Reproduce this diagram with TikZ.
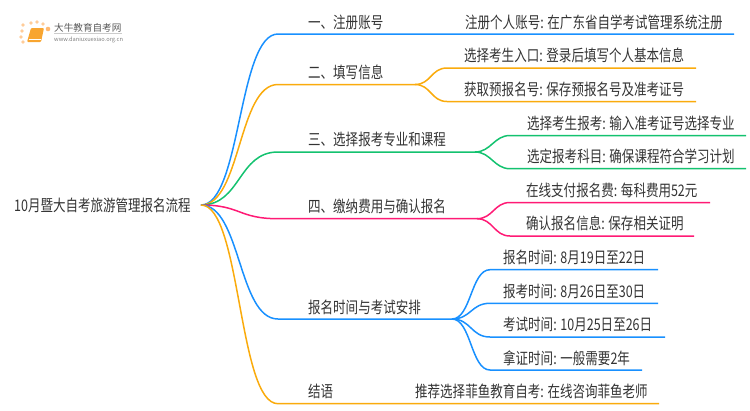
\documentclass[tikz,border=0pt]{standalone}
\usepackage{fontspec}
\usepackage{xcolor}
\setmainfont{Noto Sans CJK SC}[FakeStretch=0.782]
\newfontfamily\logofont{Noto Sans CJK SC}
\usetikzlibrary{positioning}
\definecolor{lineblue}{HTML}{1890FF}
\definecolor{lineorange}{HTML}{FAAB0C}
\definecolor{linegreen}{HTML}{13C26F}
\definecolor{linepink}{HTML}{FF1A75}
\definecolor{textgray}{HTML}{333333}
\definecolor{bookorange}{HTML}{F8A530}
\tikzset{
    label/.style={anchor=base west, inner sep=0pt, text=textgray, font=\fontsize{16}{17}\selectfont},
    branch/.style={line width=1.5pt},
    dot/.style={circle, fill=#1, inner sep=0pt, minimum size=3.6pt},
}
\begin{document}
\begin{tikzpicture}[x=1pt, y=-1pt]
    \useasboundingbox (0,0) rectangle (750,410);
    % logo
    \foreach \px/\py/\dotname in {23/25/a, 31/23/b, 37/22/c, 43/24/d, 22/31/f, 21/37/g, 23/42/h}
        \node[dot=orange!40] (logo\dotname) at (\px,\py) {};
    \node[dot=orange!55, minimum size=4.6pt] (logoe) at (48,29) {};
    \fill[bookorange, rounded corners=1pt] (31,28) -- (44,28) -- (41,42) -- (27,42) -- cycle;
    \draw[white, line width=0.5pt] (28.5,39) -- (41,39);
    \node[anchor=base west, inner sep=0pt, text=black!65, font=\logofont\fontsize{9.6}{10}\selectfont] (logotitle) at (54,31) {大牛教育自考网};
    \draw[gray!40, line width=0.4pt] (54,33.5) -- (122,33.5);
    \node[anchor=base west, inner sep=0pt, text=gray, font=\logofont\fontsize{5.7}{6}\selectfont] (logourl) at (54,41) {www.daniuxuexiao.org.cn};
    % root
    \node[label] (root) at (14,211) {10月暨大自考旅游管理报名流程};
    \coordinate (start) at (201,205);
    % first level
    \node[label] (reg) at (308,28) {一、注册账号};
    \node[label] (fill) at (308,78) {二、填写信息};
    \node[label] (major) at (308,145) {三、选择报考专业和课程};
    \node[label] (pay) at (308,212) {四、缴纳费用与确认报名};
    \node[label] (time) at (308,313) {报名时间与考试安排};
    \node[label] (end) at (308,397) {结语};
    % second level
    \node[label] (reg1) at (465,28) {注册个人账号: 在广东省自学考试管理系统注册};
    \node[label] (fill1) at (464,61) {选择考生入口: 登录后填写个人基本信息};
    \node[label] (fill2) at (464,95) {获取预报名号: 保存预报名号及准考证号};
    \node[label] (major1) at (527,129) {选择考生报考: 输入准考证号选择专业};
    \node[label] (major2) at (527,162) {选定报考科目: 确保课程符合学习计划};
    \node[label] (pay1) at (526,196) {在线支付报名费: 每科费用52元};
    \node[label] (pay2) at (526,229) {确认报名信息: 保存相关证明};
    \node[label] (time1) at (503,263) {报名时间: 8月19日至22日};
    \node[label] (time2) at (503,297) {报考时间: 8月26日至30日};
    \node[label] (time3) at (503,330) {考试时间: 10月25日至26日};
    \node[label] (time4) at (503,364) {拿证时间: 一般需要2年};
    \node[label] (end1) at (415,397) {推荐选择菲鱼教育自考: 在线咨询菲鱼老师};
    % branches
    \draw[branch, lineblue] (start) .. controls +(40,0) and +(-40,0) .. (278,34) -- (734,34);
    \draw[branch, lineorange] (start) .. controls +(40,0) and +(-40,0) .. (278,84.5) -- (415,84.5);
    \draw[branch, lineorange] (415,84.5) .. controls +(16,0) and +(-16,0) .. (447,68) -- (696,68);
    \draw[branch, lineorange] (415,84.5) .. controls +(16,0) and +(-16,0) .. (447,101.5) -- (696,101.5);
    \draw[branch, linegreen] (start) .. controls +(40,0) and +(-40,0) .. (278,152) -- (475,152);
    \draw[branch, linegreen] (475,152) .. controls +(16,0) and +(-16,0) .. (510,135.5) -- (746,135.5);
    \draw[branch, linegreen] (475,152) .. controls +(16,0) and +(-16,0) .. (510,168.7) -- (746,168.7);
    \draw[branch, linepink] (start) .. controls +(40,0) and +(-40,0) .. (278,218.7) -- (477,218.7);
    \draw[branch, linepink] (477,218.7) .. controls +(16,0) and +(-16,0) .. (510,202.5) -- (710,202.5);
    \draw[branch, linepink] (477,218.7) .. controls +(16,0) and +(-16,0) .. (510,236) -- (694,236);
    \draw[branch, lineblue] (start) .. controls +(40,0) and +(-40,0) .. (278,319) -- (452,319);
    \draw[branch, lineblue] (452,319) .. controls +(19,0) and +(-19,0) .. (490,269.7) -- (658,269.7);
    \draw[branch, lineblue] (452,319) .. controls +(19,0) and +(-19,0) .. (490,303.3) -- (658,303.3);
    \draw[branch, lineblue] (452,319) .. controls +(19,0) and +(-19,0) .. (490,337) -- (665,337);
    \draw[branch, lineblue] (452,319) .. controls +(19,0) and +(-19,0) .. (490,370) -- (642,370);
    \draw[branch, lineorange] (start) .. controls +(40,0) and +(-40,0) .. (278,403.7) -- (659,403.7);
\end{tikzpicture}
\end{document}
